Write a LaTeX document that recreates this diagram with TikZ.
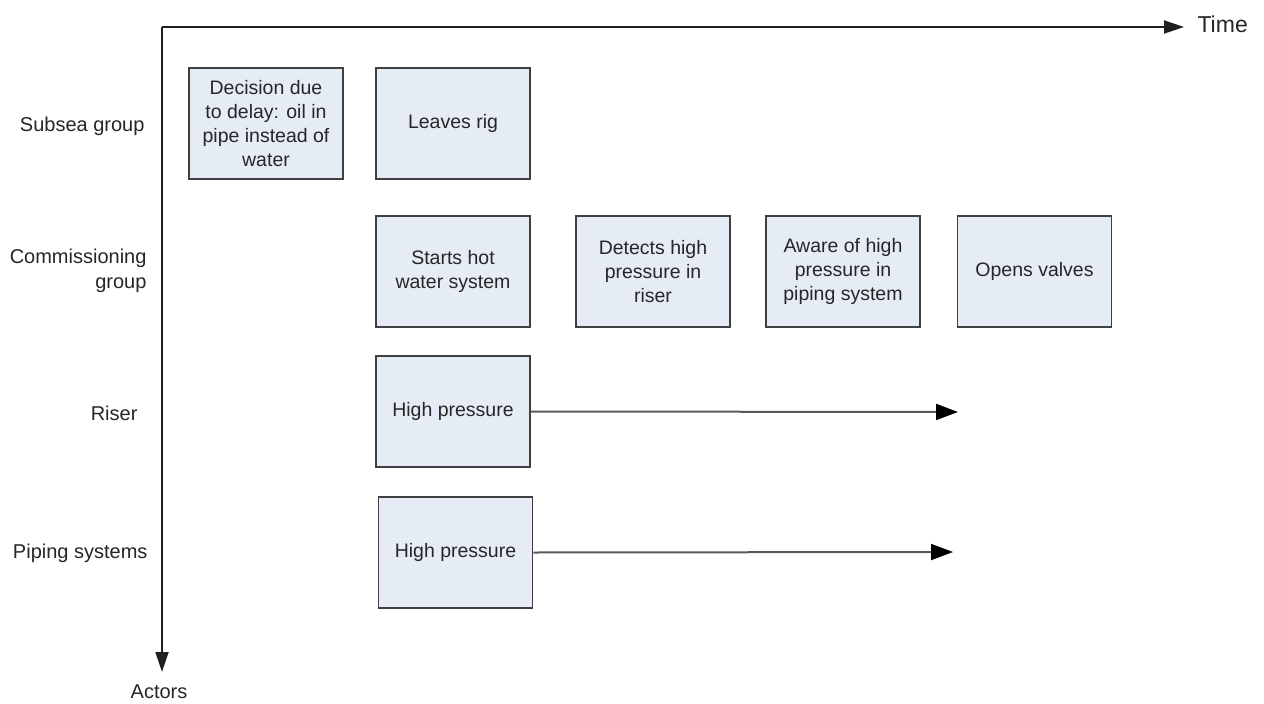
\documentclass[tikz,border=0pt]{standalone}
\usepackage{fontspec}
\setmainfont{Liberation Sans}
\usetikzlibrary{arrows.meta}
\definecolor{boxfill}{HTML}{E6ECF6}
\definecolor{boxline}{HTML}{404040}
\definecolor{axisline}{HTML}{202020}
\definecolor{textgray}{HTML}{262626}
\tikzset{
  event/.style={draw=boxline, line width=1.5pt, fill=boxfill, minimum width=154pt,
    minimum height=111pt, align=center, inner sep=0pt,
    font=\fontsize{19.5}{24}\selectfont, text=textgray},
  actor/.style={align=right, anchor=east, font=\fontsize{20}{25}\selectfont, text=textgray},
  axislabel/.style={font=\fontsize{20}{24}\selectfont, text=textgray},
  axis/.style={line width=1.8pt, draw=axisline, -{Triangle[length=20pt,width=13pt]}},
  flow/.style={line width=2pt, draw=black!65, -{Triangle[length=22pt,width=16pt,color=black]}}
}
\begin{document}
\begin{tikzpicture}[x=1pt,y=-1pt]
\useasboundingbox (0,0) rectangle (1264,704);
% axes
\coordinate (origin) at (162,27);
\coordinate (tend) at (1184,27);
\coordinate (aend) at (162,672);
\draw[axis] (origin) -- (tend);
\draw[axis] (origin) -- (aend);
\node[axislabel, anchor=west, font=\fontsize{23}{27}\selectfont] (time) at (1194,24) {Time};
\node[axislabel] (actors) at (159,692) {Actors};
% actor labels
\node[actor] (subsea) at (148,126) {Subsea group};
\node[actor] (comm) at (150,271) {Commissioning\\group};
\node[actor] (riser) at (141,413) {Riser};
\node[actor] (piping) at (151,553) {Piping systems};
% events
\node[event] (decision) at (266,123.5) {Decision due\\to delay: oil in\\pipe instead of\\water};
\node[event] (leaves) at (453,123.5) {Leaves rig};
\node[event] (starts) at (453,271.5) {Starts hot\\water system};
\node[event] (detects) at (653,271.5) {Detects high\\pressure in\\riser};
\node[event] (aware) at (843,271.5) {Aware of high\\pressure in\\piping system};
\node[event] (opens) at (1034.5,271.5) {Opens valves};
\node[event] (hpriser) at (453,411.5) {High pressure};
\node[event] (hppiping) at (455.5,552.5) {High pressure};
% durations
\coordinate (rend) at (958,412);
\coordinate (pend) at (953,552);
\draw[flow] (hpriser.east) -- (rend);
\draw[flow] (hppiping.east) -- (pend);
\end{tikzpicture}
\end{document}
